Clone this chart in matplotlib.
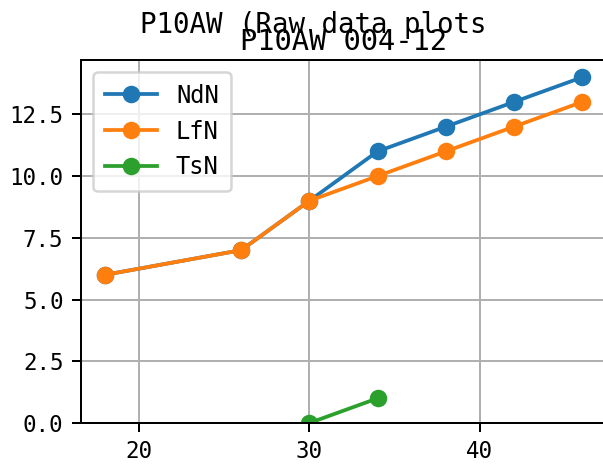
import matplotlib
matplotlib.use("Agg")
import matplotlib.pyplot as plt
from matplotlib.ticker import MultipleLocator

x_nd = [18, 26, 30, 34, 38, 42, 46]
ndn = [6, 7, 9, 11, 12, 13, 14]
x_lf = [18, 26, 30, 34, 38, 42, 46]
lfn = [6, 7, 9, 10, 11, 12, 13]
x_ts = [30, 34]
tsn = [0, 1]

plt.rcParams['font.family'] = ['DejaVu Sans Mono', 'DejaVu Sans']

DPI = 180
fig = plt.figure(figsize=(603 / DPI, 466 / DPI), dpi=DPI)
ax = fig.add_axes([81 / 603, 43 / 466, 525 / 603, 363 / 466])

ax.plot(x_nd, ndn, marker='o', label='NdN')
ax.plot(x_lf, lfn, marker='o', label='LfN')
ax.plot(x_ts, tsn, marker='o', label='TsN')
ax.set_ylim(bottom=0)
ax.xaxis.set_major_locator(MultipleLocator(10))
ax.yaxis.set_major_locator(MultipleLocator(2.5))
ax.grid(True)
ax.tick_params(labelsize=9)
ax.set_title('P10AW 004-12', fontsize=11.5, pad=4)
fig.text(313 / 603, 1 - 33 / 466, 'P10AW (Raw data plots', ha='center', va='baseline', fontsize=11)
ax.legend(loc='upper left', fontsize=9.5, borderpad=0.5, handlelength=2.2)

fig.savefig('out.png', dpi=DPI)
